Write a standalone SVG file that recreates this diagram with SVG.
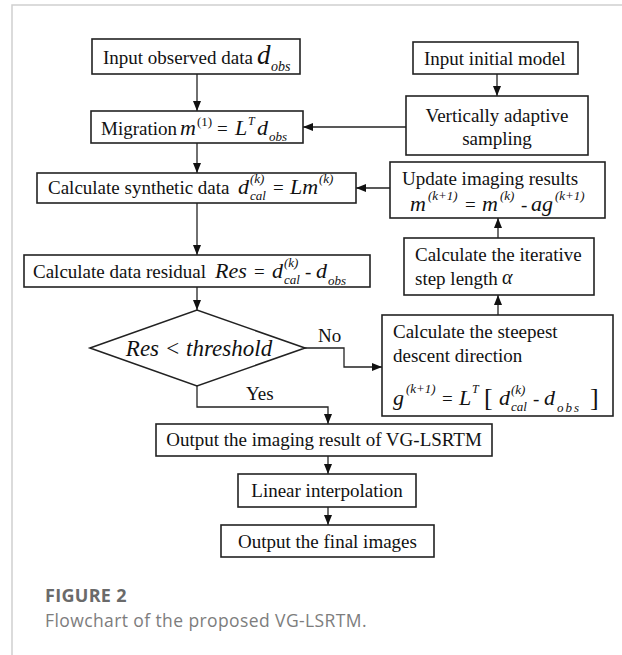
<svg xmlns="http://www.w3.org/2000/svg" width="622" height="655" viewBox="0 0 622 655">
<defs>
<marker id="ah" markerWidth="10" markerHeight="8" refX="10" refY="4" orient="auto" markerUnits="userSpaceOnUse">
<path d="M0,0 L10,4 L0,8 z" fill="#111"/>
</marker>
</defs>
<style>
.box{fill:#fff;stroke:#222;stroke-width:1.6}
.t{font-family:"Liberation Serif","Times New Roman",serif;font-size:19px;fill:#111}
.m{font-style:italic;font-size:22px}
.s{font-style:italic;font-size:13px}
.u{font-style:normal}
.c{fill:none;stroke:#222;stroke-width:1.3}
.cap1{font-family:"Open Sans",sans-serif;font-weight:bold;font-size:18px;fill:#6a6a6a;letter-spacing:0.3px}
.cap2{font-family:"Open Sans",sans-serif;font-size:17.5px;fill:#7d7d7d;letter-spacing:0.4px}
</style>
<rect width="622" height="655" fill="#fff"/>
<path d="M12,655 V5 H622" fill="none" stroke="#d0d0d0" stroke-width="1.5"/>

<g id="connectors">
<path class="c" d="M197,74 V111" marker-end="url(#ah)"/>
<path class="c" d="M497,74 V96" marker-end="url(#ah)"/>
<path class="c" d="M406,127 H303" marker-end="url(#ah)"/>
<path class="c" d="M197,143 V173" marker-end="url(#ah)"/>
<path class="c" d="M390,188 H356" marker-end="url(#ah)"/>
<path class="c" d="M197,203 V255" marker-end="url(#ah)"/>
<path class="c" d="M498,238 V218" marker-end="url(#ah)"/>
<path class="c" d="M197,287 V310" marker-end="url(#ah)"/>
<path class="c" d="M498,315 V295" marker-end="url(#ah)"/>
<path class="c" d="M305,348 H344 V367 H382" marker-end="url(#ah)"/>
<path class="c" d="M197,386 V407 H328 V424" marker-end="url(#ah)"/>
<path class="c" d="M328,456 V474" marker-end="url(#ah)"/>
<path class="c" d="M328,507 V525" marker-end="url(#ah)"/>
<text class="t" x="318" y="342">No</text>
<text class="t" x="246" y="400">Yes</text>
</g>

<g id="input-observed">
<rect class="box" x="92" y="39" width="208" height="35"/>
<text class="t"><tspan x="103" y="64">Input observed data</tspan><tspan class="m" x="257" y="64" style="font-size:27px">d</tspan><tspan class="s" x="271" y="71" style="font-size:14px">obs</tspan></text>
</g>

<g id="input-initial">
<rect class="box" x="413" y="42" width="165" height="32"/>
<text class="t" x="424" y="65">Input initial model</text>
</g>

<g id="vertical-sampling">
<rect class="box" x="406" y="96" width="182" height="59"/>
<text class="t" text-anchor="middle"><tspan x="497" y="122">Vertically adaptive</tspan><tspan x="497" y="145">sampling</tspan></text>
</g>

<g id="migration">
<rect class="box" x="91" y="111" width="212" height="32"/>
<text class="t"><tspan x="101" y="135">Migration</tspan><tspan class="m" x="180" y="135">m</tspan><tspan class="s u" x="197" y="126">(1)</tspan><tspan x="217" y="135">=</tspan><tspan class="m" x="235" y="135">L</tspan><tspan class="s" x="248" y="125" style="font-size:12px">T</tspan><tspan class="m" x="257" y="135">d</tspan><tspan class="s" x="269" y="141">obs</tspan></text>
</g>

<g id="synthetic">
<rect class="box" x="37" y="173" width="319" height="30"/>
<text class="t"><tspan x="48" y="194">Calculate synthetic data</tspan><tspan class="m" x="238" y="194">d</tspan><tspan class="s" x="250" y="183">(k)</tspan><tspan class="s" x="250" y="200">cal</tspan><tspan x="273" y="194">=</tspan><tspan class="m" x="290" y="194">Lm</tspan><tspan class="s" x="319" y="183">(k)</tspan></text>
</g>

<g id="update">
<rect class="box" x="390" y="162" width="215" height="56"/>
<text class="t"><tspan x="402" y="185">Update imaging results</tspan><tspan class="m" x="410" y="211">m</tspan><tspan class="s" x="428" y="200">(k+1)</tspan><tspan x="465" y="211">=</tspan><tspan class="m" x="482" y="211">m</tspan><tspan class="s" x="500" y="200">(k)</tspan><tspan x="521" y="211">-</tspan><tspan class="m" x="531" y="211">ag</tspan><tspan class="s" x="555" y="200">(k+1)</tspan></text>
</g>

<g id="residual">
<rect class="box" x="24" y="255" width="346" height="32"/>
<text class="t"><tspan x="33" y="278">Calculate data residual</tspan><tspan class="m" x="215" y="278">Res</tspan><tspan x="254" y="278">=</tspan><tspan class="m" x="272" y="278">d</tspan><tspan class="s" x="284" y="267">(k)</tspan><tspan class="s" x="284" y="284">cal</tspan><tspan x="305" y="278">-</tspan><tspan class="m" x="316" y="278">d</tspan><tspan class="s" x="328" y="285">obs</tspan></text>
</g>

<g id="step-length">
<rect class="box" x="404" y="238" width="190" height="57"/>
<text class="t"><tspan x="415" y="261">Calculate the iterative</tspan><tspan x="415" y="285">step length</tspan></text>
<text class="t" x="502" y="284" style="font-style:italic;font-size:20px">α</text>
</g>

<g id="decision">
<polygon class="box" points="90,348 197,310 305,348 197,386"/>
<text class="t" x="199" y="356" text-anchor="middle" style="font-style:italic;font-size:23px">Res &lt; threshold</text>
</g>

<g id="steepest">
<rect class="box" x="382" y="315" width="231" height="101"/>
<text class="t"><tspan x="393" y="338">Calculate the steepest</tspan><tspan x="393" y="362">descent direction</tspan></text>
<text class="t"><tspan class="m" x="393" y="405">g</tspan><tspan class="s" x="406" y="393">(k+1)</tspan><tspan x="442" y="405">=</tspan><tspan class="m" x="459" y="405">L</tspan><tspan class="s" x="472" y="393" style="font-size:12px">T</tspan><tspan x="484" y="406" style="font-size:26px">[</tspan><tspan class="m" x="499" y="405">d</tspan><tspan class="s" x="511" y="394">(k)</tspan><tspan class="s" x="511" y="411">cal</tspan><tspan x="533" y="405">-</tspan><tspan class="m" x="544" y="405">d</tspan><tspan class="s" x="557" y="412" style="letter-spacing:2px">obs</tspan><tspan x="590" y="406" style="font-size:26px">]</tspan></text>
</g>

<g id="output-imaging">
<rect class="box" x="156" y="424" width="336" height="32"/>
<text class="t" x="324" y="446" text-anchor="middle">Output the imaging result of VG-LSRTM</text>
</g>

<g id="interpolation">
<rect class="box" x="238" y="474" width="178" height="33"/>
<text class="t" x="327" y="497" text-anchor="middle">Linear interpolation</text>
</g>

<g id="final">
<rect class="box" x="221" y="525" width="213" height="32"/>
<text class="t" x="327.5" y="548" text-anchor="middle">Output the final images</text>
</g>

<g id="caption">
<text class="cap1" x="45" y="602">FIGURE 2</text>
<text class="cap2" x="45" y="627">Flowchart of the proposed VG-LSRTM.</text>
</g>
</svg>
